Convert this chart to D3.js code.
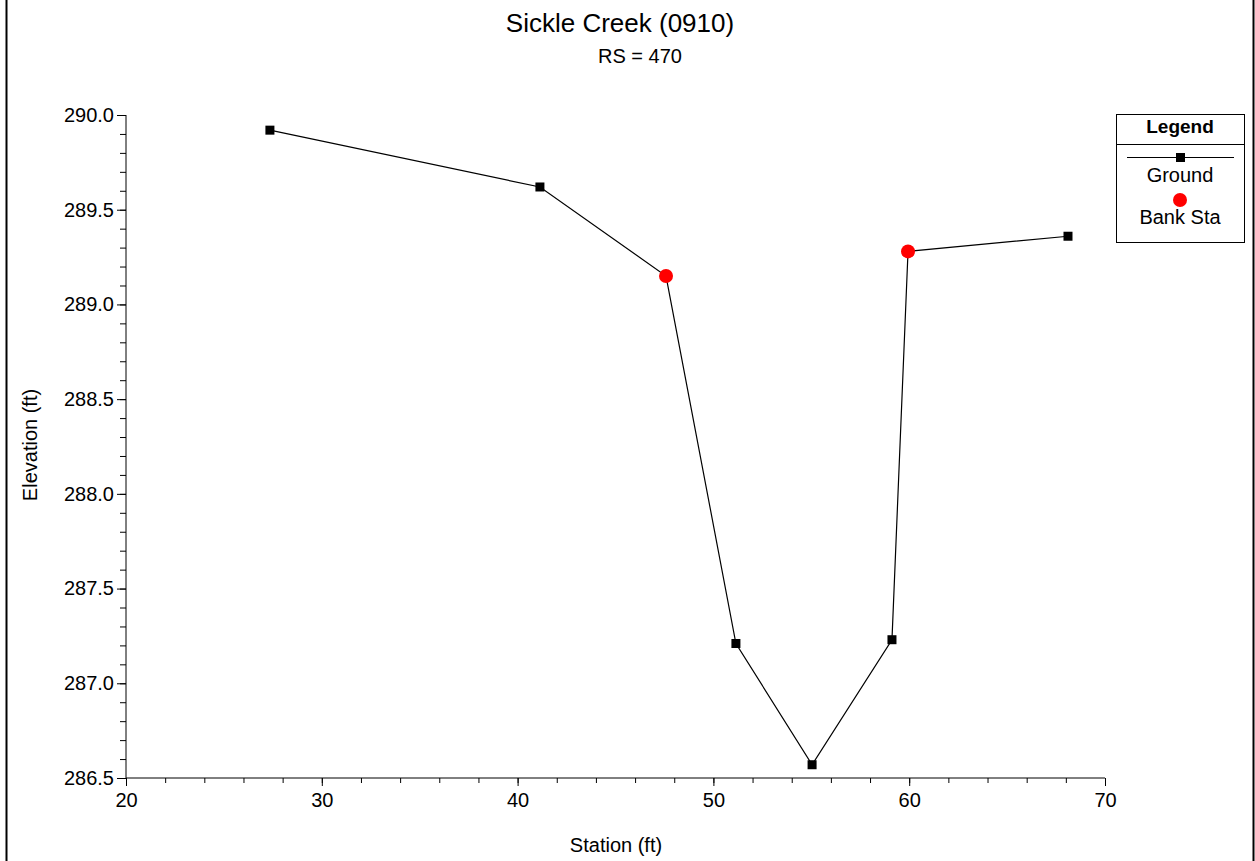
<!DOCTYPE html>
<html>
<head>
<meta charset="utf-8">
<script src="https://cdn.jsdelivr.net/npm/d3@7"></script>
<style>
  body { margin: 0; background: #fff; }
  svg text { font-family: "Liberation Sans", Arial, sans-serif; fill: #000; }
</style>
</head>
<body>
<div class="canvas"></div>
<script>
// ground survey points
const station = [27.35, 41.14, 47.58, 51.15, 55.04, 59.12, 59.94, 68.11];
const elevation = [289.92, 289.62, 289.15, 287.21, 286.57, 287.23, 289.28, 289.36];
// bank stations
const bankStation = [47.58, 59.94];
const bankElevation = [289.15, 289.28];

const xTicks = [20, 30, 40, 50, 60, 70];
const yTicks = [286.5, 287.0, 287.5, 288.0, 288.5, 289.0, 289.5, 290.0];

const W = 1255, H = 861;
const svg = d3.select('.canvas')
  .append('svg')
  .attr('width', W)
  .attr('height', H);

// outer frame lines
svg.append('line').attr('x1', 6.5).attr('x2', 6.5).attr('y1', 0).attr('y2', H)
  .attr('stroke', '#000').attr('stroke-width', 2);
svg.append('line').attr('x1', 1253.5).attr('x2', 1253.5).attr('y1', 0).attr('y2', H)
  .attr('stroke', '#000').attr('stroke-width', 2);

const x = d3.scaleLinear().domain([20, 70]).range([126, 1105]);
const y = d3.scaleLinear().domain([286.5, 290]).range([778, 115]);

// x axis
const xAxis = svg.append('g').attr('transform', 'translate(0,778)');
xAxis.call(d3.axisBottom(x).tickValues(d3.range(20, 70.01, 2)).tickSize(5).tickFormat(''))
xAxis.call(g => g.select('.domain').remove());
xAxis.append('g').call(d3.axisBottom(x).tickValues(xTicks).tickSize(8).tickPadding(7).tickFormat(d3.format('d')))
  .call(g => g.selectAll('text').attr('font-size', 20));
xAxis.selectAll('.domain').attr('d', `M${x(20)},0H${x(70)}`);

// y axis
const yAxis = svg.append('g').attr('transform', 'translate(126,0)');
yAxis.call(d3.axisLeft(y).tickValues(d3.range(286.5, 290.001, 0.1)).tickSize(6).tickFormat(''));
yAxis.call(g => g.select('.domain').remove());
yAxis.append('g').call(d3.axisLeft(y).tickValues(yTicks).tickSize(9).tickPadding(3).tickFormat(d3.format('.1f')))
  .call(g => g.selectAll('text').attr('font-size', 20));
yAxis.selectAll('.domain').attr('d', `M0,${y(286.5)}V${y(290)}`);

svg.selectAll('.tick line').attr('stroke', '#000');

// titles
svg.append('text').attr('x', 620).attr('y', 32).attr('text-anchor', 'middle')
  .attr('font-size', 26).text('Sickle Creek (0910)');
svg.append('text').attr('x', 640).attr('y', 63).attr('text-anchor', 'middle')
  .attr('font-size', 20).text('RS = 470');
svg.append('text').attr('x', 616).attr('y', 852).attr('text-anchor', 'middle')
  .attr('font-size', 20).text('Station (ft)');
svg.append('text').attr('transform', 'translate(37,445) rotate(-90)').attr('text-anchor', 'middle')
  .attr('font-size', 20).text('Elevation (ft)');

// ground line
const pts = station.map((s, i) => [s, elevation[i]]);
svg.append('path')
  .attr('d', d3.line().x(d => x(d[0])).y(d => y(d[1]))(pts))
  .attr('fill', 'none').attr('stroke', '#000').attr('stroke-width', 1.2);

svg.selectAll('rect.gpt')
  .data(pts)
  .enter()
  .append('rect')
  .attr('class', 'gpt')
  .attr('x', d => x(d[0]) - 4.5).attr('y', d => y(d[1]) - 4.5)
  .attr('width', 9).attr('height', 9).attr('fill', '#000');

svg.selectAll('circle.bank')
  .data(bankStation.map((s, i) => [s, bankElevation[i]]))
  .enter()
  .append('circle')
  .attr('class', 'bank')
  .attr('cx', d => x(d[0])).attr('cy', d => y(d[1]))
  .attr('r', 7).attr('fill', '#ff0000');

// legend
const lg = svg.append('g');
lg.append('rect').attr('x', 1116.5).attr('y', 114.5).attr('width', 128).attr('height', 128)
  .attr('fill', '#fff').attr('stroke', '#000');
lg.append('line').attr('x1', 1116.5).attr('x2', 1244.5).attr('y1', 144.5).attr('y2', 144.5).attr('stroke', '#000');
lg.append('text').attr('x', 1180).attr('y', 133).attr('text-anchor', 'middle')
  .attr('font-size', 19).attr('font-weight', 'bold').text('Legend');
lg.append('line').attr('x1', 1127).attr('x2', 1234).attr('y1', 157.5).attr('y2', 157.5).attr('stroke', '#000');
lg.append('rect').attr('x', 1176).attr('y', 153).attr('width', 9).attr('height', 9).attr('fill', '#000');
lg.append('text').attr('x', 1180).attr('y', 182).attr('text-anchor', 'middle')
  .attr('font-size', 20).text('Ground');
lg.append('circle').attr('cx', 1180).attr('cy', 200).attr('r', 7).attr('fill', '#ff0000');
lg.append('text').attr('x', 1180).attr('y', 224).attr('text-anchor', 'middle')
  .attr('font-size', 20).text('Bank Sta');
</script>
</body>
</html>
